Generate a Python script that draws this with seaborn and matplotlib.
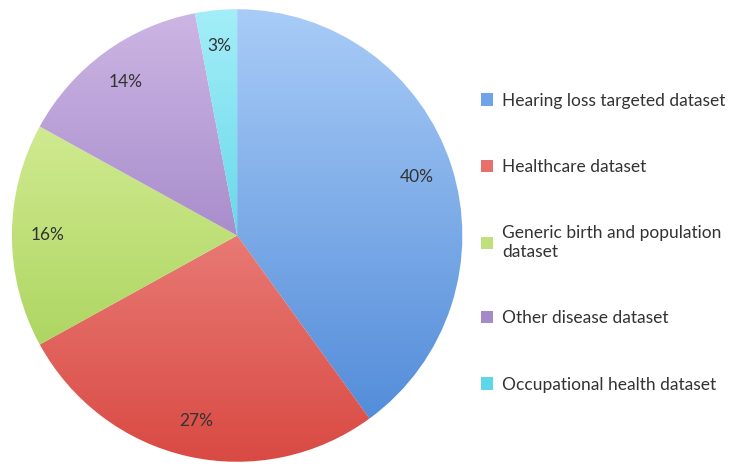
import matplotlib
matplotlib.use("Agg")
import matplotlib.pyplot as plt
import seaborn as sns
import numpy as np
from matplotlib.patches import Patch

categories = ["Hearing loss targeted dataset", "Healthcare dataset",
              "Generic birth and population\ndataset", "Other disease dataset",
              "Occupational health dataset"]
values = [40, 27, 16, 14, 3]
top_colors = ["#A9CCF7", "#F7A9A5", "#E2F5A8", "#CDB6E4", "#A3EEF8"]
bottom_colors = ["#4A86D6", "#D94A43", "#9CCB4A", "#8565B4", "#2FC3DC"]
mid_colors = ["#6FA3E8", "#E8706A", "#BFE07A", "#A58AC8", "#5CD6E8"]

sns.set_theme(style="white")
plt.rcParams["font.family"] = ["Lato", "DejaVu Sans"]
fig = plt.figure(figsize=(7.41, 4.71), dpi=100)
ax = fig.add_axes([0.01, 0.01, 0.62, 0.98])
wedges, texts, autotexts = ax.pie(values, colors=mid_colors, startangle=90, counterclock=False,
                                  autopct="%d%%", pctdistance=0.84,
                                  wedgeprops=dict(edgecolor="white", linewidth=1),
                                  textprops=dict(fontsize=12.5, color="#333333"))
ax.set_aspect("equal")
for w, c1, c2 in zip(wedges, top_colors, bottom_colors):
    cmap = sns.blend_palette([c2, c1], as_cmap=True)
    grad = np.linspace(0, 1, 256).reshape(-1, 1)
    im = ax.imshow(grad, cmap=cmap, extent=(-1, 1, -1, 1), origin="lower", zorder=w.get_zorder() + 0.5, aspect="auto")
    im.set_clip_path(w)
for t in autotexts:
    t.set_zorder(5)
ax.set_xlim(-1.02, 1.02); ax.set_ylim(-1.02, 1.02)

handles = [Patch(facecolor=c, edgecolor="none") for c in mid_colors]
fig.legend(handles, categories, loc="center left", bbox_to_anchor=(0.628, 0.485), frameon=False,
           fontsize=12.5, labelspacing=2.9, handlelength=0.7, handleheight=0.7, handletextpad=0.5,
           labelcolor="#333333")
fig.savefig("out.png", dpi=100)
